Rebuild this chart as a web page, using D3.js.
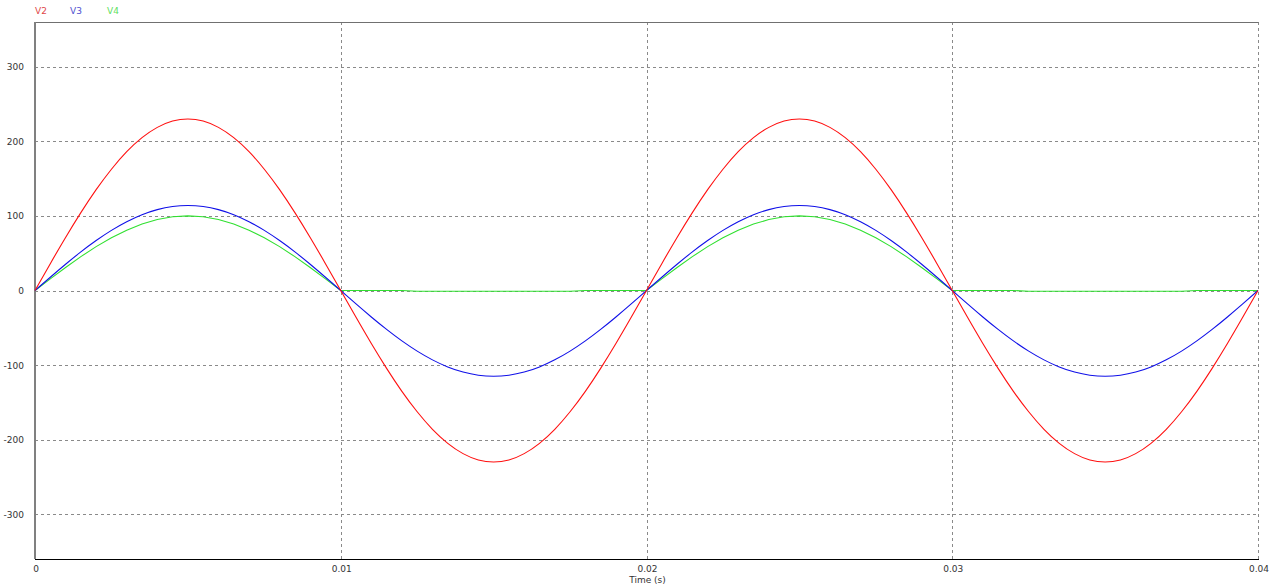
<!DOCTYPE html>
<html><head><meta charset="utf-8">
<script src="https://cdn.jsdelivr.net/npm/d3@7"></script>
<style>
html,body{margin:0;padding:0;background:#fff;}
text{font-family:"DejaVu Sans",Verdana,sans-serif;}
</style></head>
<body>
<svg id="chart" width="1280" height="586"></svg>
<script>
// time in seconds, 0.5 ms steps (0 .. 0.04)
const time = d3.range(0, 81).map(k => k / 2000);
const v2 = [0,36.0,71.1,104.4,135.2,162.6,186.1,204.9,218.7,227.2,230,227.2,218.7,204.9,186.1,162.6,135.2,104.4,71.1,36.0,
            0,-36.0,-71.1,-104.4,-135.2,-162.6,-186.1,-204.9,-218.7,-227.2,-230,-227.2,-218.7,-204.9,-186.1,-162.6,-135.2,-104.4,-71.1,-36.0,
            0,36.0,71.1,104.4,135.2,162.6,186.1,204.9,218.7,227.2,230,227.2,218.7,204.9,186.1,162.6,135.2,104.4,71.1,36.0,
            0,-36.0,-71.1,-104.4,-135.2,-162.6,-186.1,-204.9,-218.7,-227.2,-230,-227.2,-218.7,-204.9,-186.1,-162.6,-135.2,-104.4,-71.1,-36.0,0];
const v3 = [0,17.8,35.2,51.8,67.0,80.6,92.2,101.6,108.4,112.6,114,112.6,108.4,101.6,92.2,80.6,67.0,51.8,35.2,17.8,
            0,-18.0,-35.5,-52.2,-67.6,-81.3,-93.0,-102.5,-109.4,-113.6,-115,-113.6,-109.4,-102.5,-93.0,-81.3,-67.6,-52.2,-35.5,-18.0,
            0,17.8,35.2,51.8,67.0,80.6,92.2,101.6,108.4,112.6,114,112.6,108.4,101.6,92.2,80.6,67.0,51.8,35.2,17.8,
            0,-18.0,-35.5,-52.2,-67.6,-81.3,-93.0,-102.5,-109.4,-113.6,-115,-113.6,-109.4,-102.5,-93.0,-81.3,-67.6,-52.2,-35.5,-18.0,0];
const v4 = [0,15.6,30.9,45.4,58.8,70.7,80.9,89.1,95.1,98.8,100,98.8,95.1,89.1,80.9,70.7,58.8,45.4,30.9,15.6,
            0,0,0,0,0,-1,-1,-1,-1,-1,-1,-1,-1,-1,-1,-1,0,0,0,0,
            0,15.6,30.9,45.4,58.8,70.7,80.9,89.1,95.1,98.8,100,98.8,95.1,89.1,80.9,70.7,58.8,45.4,30.9,15.6,
            0,0,0,0,0,-1,-1,-1,-1,-1,-1,-1,-1,-1,-1,-1,0,0,0,0,0];
const xTicks = [0,0.01,0.02,0.03,0.04];
const yTicks = [-300,-200,-100,0,100,200,300];
const seriesNames = ["V2","V3","V4"];
const seriesColors = ["#ff1010","#1010e8","#30e030"];
const legendColors = ["#e04848","#5050d0","#60e060"];

const svg = d3.select("#chart");
const L = 35, R = 1258, T = 22, B = 559;
const x = d3.scaleLinear().domain([0,0.04]).range([L,R]);
const y = d3.scaleLinear().domain([-360,360]).range([B,T]);

// grid
const g = svg.append("g");
g.selectAll(".hg").data(yTicks).enter().append("line")
  .attr("x1",L).attr("x2",R).attr("y1",d=>Math.round(y(d))+0.5).attr("y2",d=>Math.round(y(d))+0.5)
  .attr("stroke","#8a8a8a").attr("stroke-width",1).attr("stroke-dasharray","3,3");
g.selectAll(".vg").data(xTicks.filter(d=>d>0)).enter().append("line")
  .attr("y1",T).attr("y2",B).attr("x1",d=>Math.round(x(d))+0.5).attr("x2",d=>Math.round(x(d))+0.5)
  .attr("stroke","#8a8a8a").attr("stroke-width",1).attr("stroke-dasharray","3,3");

// borders
svg.append("line").attr("x1",L).attr("x2",R+0.5).attr("y1",T+0.5).attr("y2",T+0.5).attr("stroke","#707070").attr("stroke-width",1);
svg.append("line").attr("x1",L).attr("x2",L).attr("y1",T).attr("y2",B).attr("stroke","#808080").attr("stroke-width",2);
svg.append("line").attr("x1",L).attr("x2",R+1).attr("y1",B+0.5).attr("y2",B+0.5).attr("stroke","#000").attr("stroke-width",1);

// axis labels
svg.selectAll(".yl").data(yTicks).enter().append("text")
  .attr("x",24).attr("y",d=>y(d)+3.5).attr("text-anchor","end")
  .attr("font-size",9).attr("fill","#333").text(d=>d);
svg.selectAll(".xl").data(xTicks).enter().append("text")
  .attr("x",d=>x(d)+1).attr("y",572).attr("text-anchor","middle")
  .attr("font-size",9).attr("fill","#333").text(d=>d);
svg.append("text").attr("x",x(0.02)+1).attr("y",583).attr("text-anchor","middle")
  .attr("font-size",9).attr("fill","#333").text("Time (s)");

// legend
const legX = [35,70,107];
seriesNames.forEach((n,i)=>{
  svg.append("text").attr("x",legX[i]).attr("y",14).attr("font-size",9)
    .attr("fill",legendColors[i]).text(n);
});

// lines
const data = [v2,v3,v4];
const curves = [d3.curveNatural, d3.curveNatural, d3.curveLinear];
[2,1,0].forEach(i=>{
  const line = d3.line().x((d,j)=>x(time[j])).y(d=>y(d)).curve(curves[i]);
  svg.append("path").datum(data[i]).attr("d",line).attr("fill","none")
    .attr("stroke",seriesColors[i]).attr("stroke-width",1.1);
});
</script>
</body></html>
